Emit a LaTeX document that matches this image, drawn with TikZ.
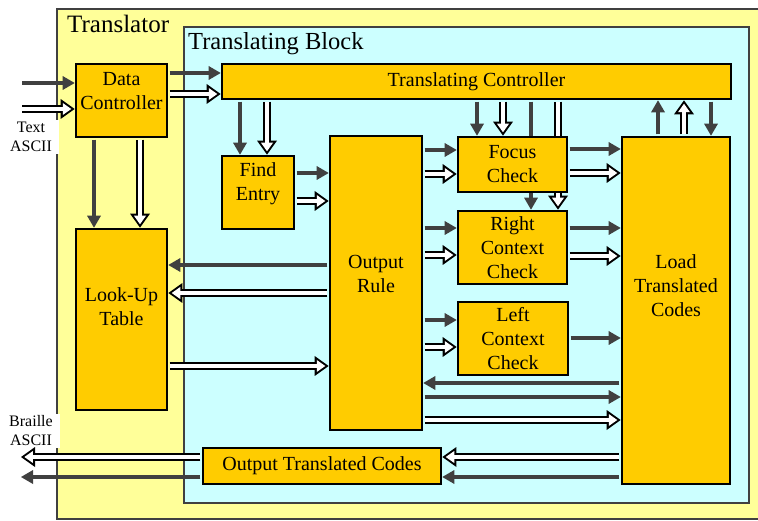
\documentclass[tikz,border=0pt]{standalone}
\usepackage{fontspec}
\setmainfont{Liberation Serif}
\usetikzlibrary{arrows.meta}

\definecolor{outery}{HTML}{FFFF99}
\definecolor{innerc}{HTML}{CCFFFF}
\definecolor{blockc}{HTML}{FFCC00}
\definecolor{darkg}{HTML}{404040}

\tikzset{
  block/.style={draw=black, line width=2.7pt, fill=blockc, inner sep=0pt,
    align=center, font=\fontsize{20}{24}\selectfont},
  txt/.style={align=center, font=\fontsize{20}{24}\selectfont},
  io label/.style={fill=white, align=center, inner xsep=7pt, inner ysep=2pt,
    font=\fontsize{16}{19}\selectfont},
  dk/.style={draw=darkg, line width=4.5pt, shorten <=1.3pt,
    -{Triangle[length=12pt,width=14pt,line width=0pt]}},
  hol out/.style={draw=black, line width=7.5pt, shorten <=1.3pt,
    -{Triangle[length=14pt,width=20pt,line width=0pt]}},
  hol in/.style={draw=white, line width=3.5pt, shorten <=1.3pt, shorten >=3.4pt,
    -{Triangle[length=8.5pt,width=12pt,line width=0pt]}}
}

% hollow (white) arrow from #1 to #2
\newcommand{\hlarrow}[2]{%
  \draw[hol out] #1 -- #2;
  \draw[hol in] #1 -- #2;}

\begin{document}
\begin{tikzpicture}[x=1pt,y=-1pt]
  \useasboundingbox (0,0) rectangle (758,521);

  % containers
  \draw[draw=darkg, line width=2.5pt, fill=outery] (57,9) rectangle (770,519);
  \draw[draw=darkg, line width=2.5pt, fill=innerc] (184,27) rectangle (749,503);
  \node[anchor=base west, inner sep=0pt, font=\fontsize{25}{30}\selectfont] (ttl) at (67,33) {Translator};
  \node[anchor=base west, inner sep=0pt, font=\fontsize{24.5}{30}\selectfont] (blkttl) at (188,50) {Translating Block};

  \node[io label] (txtin) at (31,137) {Text\\ASCII};
  \node[io label] (brlout) at (31,431) {Braille\\ASCII};

  \coordinate (inA) at (21,83);
  \coordinate (inB) at (21,109);
  \coordinate (outA) at (21,457);
  \coordinate (outB) at (21,477);

  \node[block, minimum width=509pt, minimum height=35pt] (tc) at (476.5,81.5) {Translating Controller};
  \node[block, minimum width=109pt, minimum height=73pt] (rc) at (512.5,247.5) {Right\\Context\\Check};

  % these run behind Focus Check
  \draw[dk] (tc.south -| 531,0) -- (rc.north -| 531,0);
  \hlarrow{(tc.south -| 558,0)}{(rc.north -| 558,0)}

  \node[block, minimum width=109pt, minimum height=55pt] (fc) at (512.5,164.5) {Focus\\Check};
  \node[block, minimum width=110pt, minimum height=73pt] (lc) at (513,338.5) {Left\\Context\\Check};
  \node[block, minimum width=91pt, minimum height=73pt,
    label={[txt,yshift=9pt]center:Data\\Controller}] (dc) at (121.5,100.5) {};
  \node[block, minimum width=91pt, minimum height=181pt,
    label={[txt,yshift=13pt]center:Look-Up\\Table}] (lut) at (121.5,319.5) {};
  \node[block, minimum width=72pt, minimum height=73pt,
    label={[txt,yshift=9pt]center:Find\\Entry}] (fe) at (258,192.5) {};
  \node[block, minimum width=92pt, minimum height=294pt,
    label={[txt,yshift=9pt]center:Output\\Rule}] (or) at (376,283) {};
  \node[block, minimum width=108pt, minimum height=347pt,
    label={[txt,yshift=24.5pt]center:Load\\Translated\\Codes}] (ltc) at (676,310.5) {};
  \node[block, minimum width=238pt, minimum height=36pt] (otc) at (322,466) {Output Translated Codes};

  % input side
  \draw[dk] (inA) -- (dc.west |- inA);
  \hlarrow{(inB)}{(dc.west |- inB)}
  \draw[dk] (dc.east |- 0,73) -- (tc.west |- 0,73);
  \hlarrow{(dc.east |- 0,94)}{(tc.west |- 0,94)}
  \draw[dk] (dc.south -| 94,0) -- (lut.north -| 94,0);
  \hlarrow{(dc.south -| 140,0)}{(lut.north -| 140,0)}

  % controller
  \draw[dk] (tc.south -| 240,0) -- (fe.north -| 240,0);
  \hlarrow{(tc.south -| 267,0)}{(fe.north -| 267,0)}
  \draw[dk] (tc.south -| 477,0) -- (fc.north -| 477,0);
  \hlarrow{(tc.south -| 503,0)}{(fc.north -| 503,0)}
  \draw[dk] (ltc.north -| 658,0) -- (tc.south -| 658,0);
  \hlarrow{(ltc.north -| 684,0)}{(tc.south -| 684,0)}
  \draw[dk] (tc.south -| 711,0) -- (ltc.north -| 711,0);

  % find entry, look-up table and output rule
  \draw[dk] (fe.east |- 0,173) -- (or.west |- 0,173);
  \hlarrow{(fe.east |- 0,201)}{(or.west |- 0,201)}
  \draw[dk] (or.west |- 0,265) -- (lut.east |- 0,265);
  \hlarrow{(or.west |- 0,293)}{(lut.east |- 0,293)}
  \hlarrow{(lut.east |- 0,366)}{(or.west |- 0,366)}

  % output rule to checks
  \draw[dk] (or.east |- 0,150) -- (fc.west |- 0,150);
  \hlarrow{(or.east |- 0,174)}{(fc.west |- 0,174)}
  \draw[dk] (or.east |- 0,228) -- (rc.west |- 0,228);
  \hlarrow{(or.east |- 0,255)}{(rc.west |- 0,255)}
  \draw[dk] (or.east |- 0,320) -- (lc.west |- 0,320);
  \hlarrow{(or.east |- 0,347)}{(lc.west |- 0,347)}

  % checks to load translated codes
  \draw[dk] (fc.east |- 0,149) -- (ltc.west |- 0,149);
  \hlarrow{(fc.east |- 0,173)}{(ltc.west |- 0,173)}
  \draw[dk] (rc.east |- 0,228) -- (ltc.west |- 0,228);
  \hlarrow{(rc.east |- 0,256)}{(ltc.west |- 0,256)}
  \draw[dk] (lc.east |- 0,338) -- (ltc.west |- 0,338);

  \draw[dk] (ltc.west |- 0,383) -- (or.east |- 0,383);
  \draw[dk] (or.east |- 0,397) -- (ltc.west |- 0,397);
  \hlarrow{(or.east |- 0,420)}{(ltc.west |- 0,420)}

  % output
  \hlarrow{(ltc.west |- 0,457)}{(otc.east |- 0,457)}
  \draw[dk] (ltc.west |- 0,477) -- (otc.east |- 0,477);
  \hlarrow{(otc.west |- outA)}{(outA)}
  \draw[dk] (otc.west |- outB) -- (outB);
\end{tikzpicture}
\end{document}
